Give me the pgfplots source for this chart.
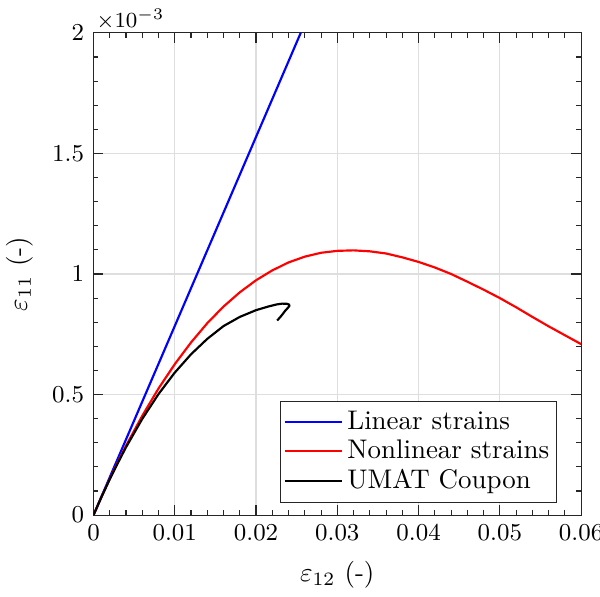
\documentclass[border=0pt]{standalone}
\usepackage{pgfplots}
\pgfplotsset{compat=1.18}
\begin{document}
\begin{tikzpicture}
\definecolor{axgray}{gray}{0.15}
\definecolor{gridgray}{gray}{0.87}
\useasboundingbox (-34.7pt,-30.3pt) rectangle (188pt,191.2pt);
\begin{axis}[
  at={(0,0)}, anchor=south west,
  scale only axis,
  width=181pt, height=179pt,
  xmin=0, xmax=0.06, ymin=0, ymax=2,
  xtick={0,0.01,0.02,0.03,0.04,0.05,0.06},
  ytick={0,0.5,1,1.5,2},
  minor x tick num=4, minor y tick num=4,
  scaled x ticks=false,
  xticklabel style={/pgf/number format/fixed,/pgf/number format/precision=2, font=\small},
  yticklabel style={/pgf/number format/fixed, font=\small},
  tick align=inside,
  major tick length=3.6pt, minor tick length=1.8pt,
  tick style={axgray, line width=0.4pt},
  axis line style={axgray, line width=0.4pt},
  grid=major,
  grid style={gridgray, line width=0.4pt},
  xlabel={$\varepsilon_{12}$ (-)},
  ylabel={$\varepsilon_{11}$ (-)},
  xlabel style={yshift=-1pt},
  legend cell align=left,
  legend style={at={(rel axis cs:0.95,0.026)}, anchor=south east, draw=axgray, line width=0.4pt, font=\normalsize, inner xsep=1pt, inner ysep=1.5pt, row sep=-1.5pt, nodes={inner xsep=1.6pt}},
  legend image code/.code={\draw[#1] (0cm,0cm) -- (0.75cm,0cm);},
  clip mode=individual,
]
\addplot[blue, line width=0.8pt] coordinates {(0,0) (0.0255,2.0)};
\addlegendentry{Linear strains}
\addplot[red, line width=0.8pt, line join=round] coordinates {
(0,0) (0.001,0.0767) (0.002,0.150) (0.003,0.220) (0.004,0.2875) (0.006,0.412)
(0.008,0.525) (0.010,0.626) (0.012,0.716) (0.014,0.796) (0.016,0.865)
(0.018,0.924) (0.020,0.974) (0.022,1.015) (0.024,1.048) (0.026,1.072)
(0.028,1.088) (0.030,1.096) (0.032,1.098) (0.034,1.094) (0.036,1.085)
(0.038,1.069) (0.040,1.050) (0.042,1.027) (0.044,1.000) (0.046,0.968)
(0.048,0.935) (0.050,0.900) (0.052,0.862) (0.054,0.822) (0.056,0.783)
(0.058,0.746) (0.060,0.709)};
\addlegendentry{Nonlinear strains}
\addplot[black, line width=0.8pt, line join=round] coordinates {
(0,0) (0.001,0.0763) (0.002,0.1486) (0.003,0.216) (0.004,0.2814) (0.006,0.399)
(0.008,0.502) (0.010,0.591) (0.012,0.667) (0.014,0.731) (0.016,0.784)
(0.018,0.822) (0.020,0.850) (0.0215,0.865) (0.0225,0.8735) (0.0232,0.8770)
(0.0238,0.8765) (0.02405,0.8735) (0.02412,0.868) (0.0239,0.859)
(0.0236,0.848) (0.0231,0.826) (0.0226,0.807)};
\addlegendentry{UMAT Coupon}
\node[anchor=south west, inner sep=1pt, font=\footnotesize] at (rel axis cs:0,1) {$\times10^{-3}$};
\end{axis}
\end{tikzpicture}
\end{document}
